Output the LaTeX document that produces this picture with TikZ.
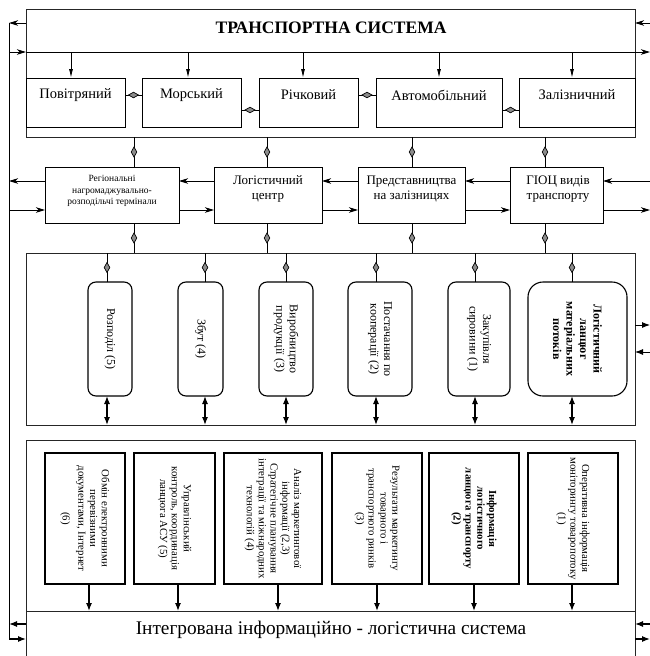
\documentclass[tikz,border=0pt]{standalone}
\usepackage{fontspec}
\setmainfont{Liberation Serif}
\usetikzlibrary{arrows.meta,decorations.markings,calc}
\begin{document}
\begin{tikzpicture}[x=1pt,y=-1pt,
  box/.style={draw, line width=1pt, inner sep=0pt, outer sep=0pt},
  obox/.style={draw=black!85, line width=0.9pt, inner sep=0pt, outer sep=0pt},
  rbox/.style={draw, line width=1.1pt, rounded corners=8pt, inner sep=0pt, outer sep=0pt},
  ibox/.style={draw, line width=1.3pt, inner sep=0pt, outer sep=0pt},
  txt/.style={inner sep=0pt, align=center},
  vtxt/.style={inner sep=0pt, align=center, rotate=-90},
  mfont/.style={font=\fontsize{14.5}{16}\selectfont},
  sfont/.style={font=\fontsize{13}{15}\selectfont},
  tfont/.style={font=\fontsize{12}{13.5}\selectfont},
  ifont/.style={font=\fontsize{10.8}{11.8}\selectfont},
  harr/.style={line width=0.9pt, -{Stealth[length=9pt,width=5.5pt,inset=2.5pt]}},
  darr/.style={line width=0.9pt, -{Latex[length=9pt,width=4pt]}},
  dbl/.style={line width=1.2pt, {Latex[length=8pt,width=6pt]}-{Latex[length=8pt,width=6pt]}},
  farr/.style={line width=1.2pt, -{Latex[length=8pt,width=6pt]}},
  dia/.style={line width=0.9pt, postaction={decorate, decoration={markings, mark=at position 0.5 with {\draw[line width=0.7pt, fill=black!45] (-5pt,0pt) -- (0pt,2.8pt) -- (5pt,0pt) -- (0pt,-2.8pt) -- cycle;}}}},
]
\useasboundingbox (0,0) rectangle (650,656);

% reference coordinates
\coordinate (lv) at (9,0);
\coordinate (re) at (650,0);
\foreach \n/\y in {r23/23,r52/52,r95/95,r110/110,r181/181,r210/210,r325/325,r352/352,r624/624,r639/639}
  \coordinate (\n) at (0,\y);

% ---------- transport system ----------
\node[obox, minimum width=609pt, minimum height=128pt] (top) at (330.5,73) {};
\node[txt, font=\bfseries\fontsize{17.5}{20}\selectfont] (title) at (331,28) {ТРАНСПОРТНА СИСТЕМА};

\node[box, minimum width=99pt, minimum height=49pt] (pov) at (75.5,102.5) {};
\node[box, minimum width=99pt, minimum height=49pt] (mor) at (191.5,102.5) {};
\node[box, minimum width=99pt, minimum height=49pt] (rich) at (308.5,102.5) {};
\node[box, minimum width=126pt, minimum height=49pt] (avt) at (439,102.5) {};
\node[box, minimum width=116pt, minimum height=49pt] (zal) at (577,102.5) {};
\node[txt, mfont] (tpov) at (75.5,95) {Повітряний};
\node[txt, mfont] (tmor) at (191.5,95) {Морський};
\node[txt, mfont] (trich) at (308.5,95) {Річковий};
\node[txt, mfont] (tavt) at (439,95) {Автомобільний};
\node[txt, mfont] (tzal) at (577,95) {Залізничний};

\draw[line width=0.9pt] (top.west |- r52) -- (top.east |- r52);
\foreach \x/\b in {71/pov,188/mor,303/rich,439/avt,572/zal}{
  \coordinate (m\b) at (\x,0);
  \draw[darr] (m\b |- r52) -- (m\b |- \b.north);
}
\draw[dia] (pov.east |- r95) -- (mor.west |- r95);
\draw[dia] (mor.east |- r110) -- (rich.west |- r110);
\draw[dia] (rich.east |- r95) -- (avt.west |- r95);
\draw[dia] (avt.east |- r110) -- (zal.west |- r110);

% ---------- second row ----------
\node[box, minimum width=134pt, minimum height=56pt] (reg) at (112,195) {};
\node[box, minimum width=108pt, minimum height=56pt] (log) at (268,195) {};
\node[box, minimum width=107pt, minimum height=56pt] (pred) at (411.5,195) {};
\node[box, minimum width=93pt, minimum height=56pt] (giots) at (556.5,195) {};
\node[txt, font=\fontsize{9.5}{11.5}\selectfont] (treg) at (112,191) {Регіональні\\нагромаджувально-\\розподільчі термінали};
\node[txt, sfont] (tlog) at (268,189) {Логістичний\\центр};
\node[txt, sfont] (tpred) at (411.5,189) {Представництва\\на залізницях};
\node[txt, sfont] (tgiots) at (558,189) {ГІОЦ видів\\транспорту};

% ---------- material flows ----------
\node[obox, minimum width=609pt, minimum height=172pt] (mat) at (330.5,339) {};
\node[rbox, minimum width=44pt, minimum height=114pt] (roz) at (110,339) {};
\node[rbox, minimum width=45pt, minimum height=114pt] (zbut) at (200.5,339) {};
\node[rbox, minimum width=54pt, minimum height=114pt] (vyr) at (286,339) {};
\node[rbox, minimum width=64pt, minimum height=114pt] (post) at (380,339) {};
\node[rbox, minimum width=62pt, minimum height=114pt] (zak) at (479,339) {};
\node[rbox, rounded corners=15pt, minimum width=99pt, minimum height=114pt] (lanc) at (577.5,339) {};
\node[vtxt, tfont] (troz) at (roz.center) {Розподіл (5)};
\node[vtxt, tfont] (tzbut) at (zbut.center) {Збут (4)};
\node[vtxt, tfont] (tvyr) at (vyr.center) {Виробництво\\продукції (3)};
\node[vtxt, tfont] (tpost) at (post.center) {Постачання по\\кооперації (2)};
\node[vtxt, tfont] (tzak) at (zak.center) {Закупівля\\сировини (1)};
\node[vtxt, tfont, font=\bfseries\fontsize{12}{13.5}\selectfont] (tlanc) at (lanc.center) {Логістичний\\ланцюг\\матеріальних\\потоків};

\foreach \x/\b in {134/reg,267/log,412/pred,545/giots}{
  \coordinate (s\b) at (\x,0);
  \draw[dia] (s\b |- top.south) -- (s\b |- \b.north);
  \draw[dia] (s\b |- \b.south) -- (s\b |- mat.north);
}
\foreach \x/\b in {107/roz,205/zbut,286/vyr,376/post,475/zak,572/lanc}{
  \coordinate (k\b) at (\x,0);
  \draw[dia] (k\b |- mat.north) -- (k\b |- \b.north);
  \draw[dbl] (k\b |- \b.south) -- (k\b |- mat.south);
}

% ---------- information ----------
\node[obox, minimum width=609pt, minimum height=171pt] (inf) at (330.5,525.5) {};
\node[obox, minimum width=609pt, minimum height=50pt] (ils) at (330.5,636) {};
\node[txt, font=\fontsize{19.3}{21}\selectfont] (tils) at (331,630) {Інтегрована інформаційно - логістична система};

\node[ibox, minimum width=80pt, minimum height=131pt] (i6) at (85,518.5) {};
\node[ibox, minimum width=81pt, minimum height=131pt] (i5) at (174.5,518.5) {};
\node[ibox, minimum width=98pt, minimum height=131pt] (i4) at (273,518.5) {};
\node[ibox, minimum width=90pt, minimum height=131pt] (i3) at (377,518.5) {};
\node[ibox, minimum width=90pt, minimum height=131pt] (i2) at (474,518.5) {};
\node[ibox, minimum width=90pt, minimum height=131pt] (i1) at (573,518.5) {};
\node[vtxt, ifont] (ti6) at (i6.center) {Обмін електронними\\перевізними\\документами, Інтернет\\[4pt](6)};
\node[vtxt, ifont] (ti5) at (i5.center) {Управлінський\\контроль, координація\\ланцюга АСУ (5)};
\node[vtxt, ifont] (ti4) at (i4.center) {Аналіз маркетингової\\інформації (2,3)\\Стратегічне планування\\інтеграції та міжнародних\\технологій (4)};
\node[vtxt, ifont] (ti3) at (i3.center) {Результати маркетингу\\товарного і\\транспортного ринків\\(3)};
\node[vtxt, ifont, font=\bfseries\fontsize{10.8}{11.8}\selectfont] (ti2) at (i2.center) {Інформація\\логістичного\\ланцюга транспорту\\(2)};
\node[vtxt, ifont] (ti1) at (i1.center) {Оперативна інформація\\моніторингу товаропотоку\\(1)};
\foreach \x/\b in {89/i6,178/i5,278/i4,377/i3,474/i2,572/i1}{
  \coordinate (d\b) at (\x,0);
  \draw[farr] (d\b |- \b.south) -- (d\b |- ils.north);
}

% ---------- feedback lines ----------
\draw[line width=0.9pt] (lv |- r23) -- (lv |- r639);
% top
\draw[harr] (top.west |- r23) -- (lv |- r23);
\draw[harr] (lv |- r52) -- (top.west |- r52);
\draw[harr] (re |- r23) -- (top.east |- r23);
\draw[harr] (top.east |- r52) -- (re |- r52);
% second row, upper line (leftwards)
\draw[harr] (reg.west |- r181) -- (lv |- r181);
\draw[harr] (log.west |- r181) -- (reg.east |- r181);
\draw[harr] (pred.west |- r181) -- (log.east |- r181);
\draw[harr] (giots.west |- r181) -- (pred.east |- r181);
\draw[harr] (re |- r181) -- (giots.east |- r181);
% second row, lower line (rightwards)
\draw[harr] (lv |- r210) -- (reg.west |- r210);
\draw[harr] (reg.east |- r210) -- (log.west |- r210);
\draw[harr] (log.east |- r210) -- (pred.west |- r210);
\draw[harr] (pred.east |- r210) -- (giots.west |- r210);
\draw[harr] (giots.east |- r210) -- (re |- r210);
% material block right
\draw[farr, line width=0.9pt] (mat.east |- r325) -- (re |- r325);
\draw[farr, line width=0.9pt] (re |- r352) -- (mat.east |- r352);
% bottom
\draw[farr] (ils.west |- r624) -- (lv |- r624);
\draw[farr] (lv |- r639) -- (ils.west |- r639);
\draw[farr] (re |- r624) -- (ils.east |- r624);
\draw[farr] (ils.east |- r639) -- (re |- r639);
\end{tikzpicture}
\end{document}
